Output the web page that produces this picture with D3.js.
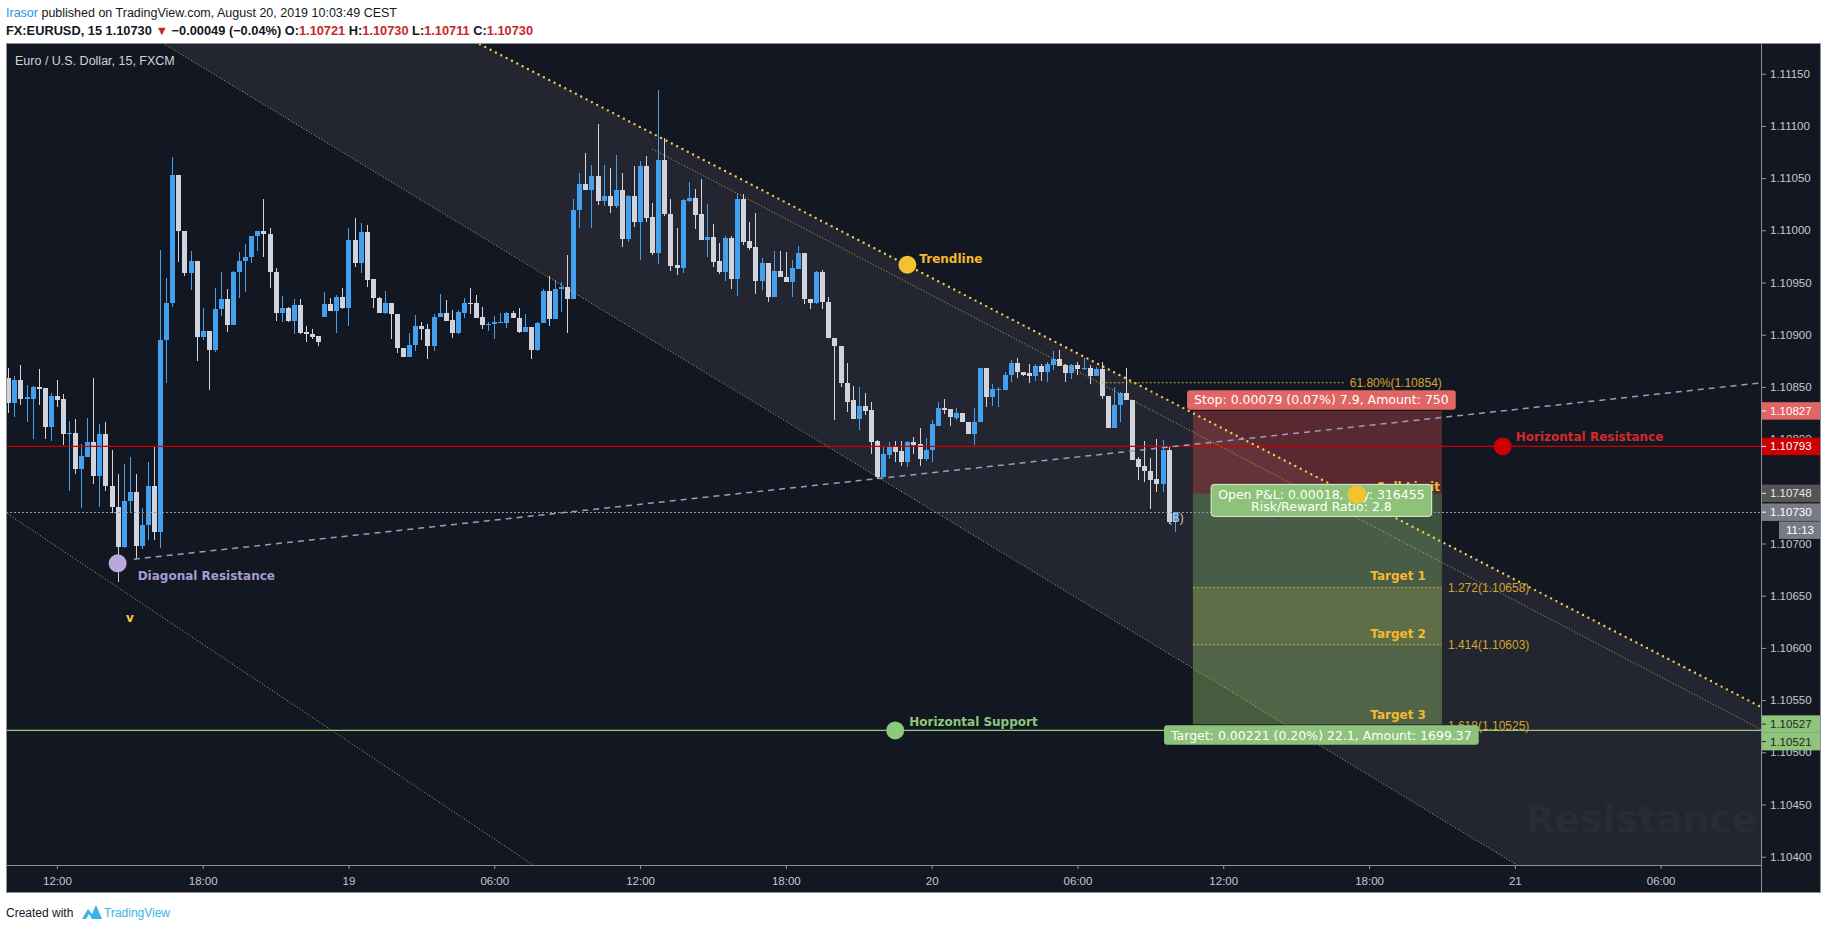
<!DOCTYPE html>
<html>
<head>
<meta charset="utf-8">
<script src="https://cdn.jsdelivr.net/npm/d3@7/dist/d3.min.js"></script>
<style>
html,body{margin:0;padding:0;background:#ffffff;}
svg{display:block;}
</style>
</head>
<body>
<svg id="chart" width="1828" height="930"></svg>
<script>
// ================= DATA =================
const headerAuthor = "Irasor";
const headerPublished = " published on TradingView.com, August 20, 2019 10:03:49 CEST";
const symbolLabel = "FX:EURUSD, 15";
const lastPriceText = "1.10730";
const changeText = "\u22120.00049 (\u22120.04%)";
const ohlcLabels = ["O", "H", "L", "C"];
const ohlcValues = ["1.10721", "1.10730", "1.10711", "1.10730"];
const chartTitle = "Euro / U.S. Dollar, 15, FXCM";

const firstBarTime = "2019-08-18T10:00:00Z";
const barMinutes = 15;

const opens = [
1.10859,1.10835,1.10857,1.10838,1.10838,1.10850,1.10849,1.10812,1.10841,1.10838,
1.10805,1.10806,1.10771,1.10783,1.10797,1.10765,1.10805,1.10755,1.10735,1.10697,
1.10741,1.10749,1.10698,1.10718,1.10755,1.10711,1.10895,1.10930,1.11053,1.10999,
1.10959,1.10971,1.10898,1.10904,1.10885,1.10925,1.10934,1.10909,1.10960,1.10971,
1.10974,1.10995,1.10999,1.10996,1.10960,1.10921,1.10926,1.10913,1.10928,1.10903,
1.10901,1.10899,1.10917,1.10929,1.10923,1.10936,1.10926,1.10991,1.10969,1.10998,
1.10953,1.10935,1.10921,1.10930,1.10920,1.10887,1.10879,1.10890,1.10908,1.10905,
1.10889,1.10917,1.10921,1.10914,1.10902,1.10921,1.10930,1.10930,1.10917,1.10909,
1.10910,1.10911,1.10911,1.10921,1.10916,1.10903,1.10907,1.10885,1.10911,1.10942,
1.10915,1.10944,1.10946,1.10934,1.11019,1.11044,1.11039,1.11052,1.11028,1.11033,
1.11023,1.11039,1.10992,1.11033,1.11008,1.11062,1.11013,1.10978,1.11067,1.11016,
1.10967,1.10964,1.11028,1.11031,1.11016,1.10991,1.10994,1.10971,1.10960,1.10993,
1.10953,1.11030,1.10990,1.10984,1.10951,1.10969,1.10936,1.10961,1.10955,1.10950,
1.10963,1.10978,1.10934,1.10930,1.10960,1.10931,1.10897,1.10889,1.10854,1.10837,
1.10819,1.10832,1.10828,1.10798,1.10764,1.10785,1.10792,1.10789,1.10778,1.10797,
1.10795,1.10781,1.10790,1.10813,1.10830,1.10829,1.10820,1.10825,1.10816,1.10805,
1.10816,1.10868,1.10840,1.10847,1.10847,1.10861,1.10873,1.10864,1.10863,1.10860,
1.10870,1.10864,1.10871,1.10877,1.10871,1.10863,1.10871,1.10867,1.10868,1.10860,
1.10867,1.10841,1.10811,1.10833,1.10844,1.10837,1.10781,1.10774,1.10769,1.10762,
1.10757,1.10790,1.10721];

const highs = [
1.10868,1.10860,1.10871,1.10852,1.10851,1.10867,1.10849,1.10844,1.10857,1.10843,
1.10817,1.10819,1.10795,1.10820,1.10859,1.10814,1.10816,1.10790,1.10767,1.10776,
1.10783,1.10767,1.10734,1.10778,1.10792,1.10981,1.10954,1.11070,1.11053,1.10999,
1.10980,1.10971,1.10926,1.10904,1.10945,1.10960,1.10944,1.10961,1.10979,1.10987,
1.10995,1.10999,1.11030,1.11002,1.10964,1.10937,1.10927,1.10934,1.10934,1.10908,
1.10905,1.10899,1.10941,1.10935,1.10938,1.10945,1.11002,1.11012,1.11007,1.11005,
1.10953,1.10936,1.10942,1.10930,1.10920,1.10887,1.10902,1.10919,1.10912,1.10910,
1.10920,1.10939,1.10933,1.10924,1.10924,1.10935,1.10945,1.10938,1.10927,1.10912,
1.10918,1.10921,1.10922,1.10923,1.10926,1.10920,1.10907,1.10912,1.10944,1.10956,
1.10952,1.10950,1.10976,1.11030,1.11055,1.11074,1.11063,1.11102,1.11063,1.11060,
1.11072,1.11055,1.11034,1.11062,1.11066,1.11071,1.11026,1.11134,1.11088,1.11030,
1.11002,1.11030,1.11046,1.11040,1.11049,1.11025,1.11006,1.10988,1.10995,1.10995,
1.11035,1.11035,1.11008,1.11017,1.10973,1.10969,1.10980,1.10980,1.10979,1.10972,
1.10985,1.10978,1.10934,1.10961,1.10962,1.10936,1.10897,1.10889,1.10873,1.10851,
1.10850,1.10844,1.10836,1.10799,1.10792,1.10797,1.10798,1.10798,1.10798,1.10802,
1.10811,1.10801,1.10818,1.10836,1.10838,1.10829,1.10830,1.10825,1.10816,1.10830,
1.10868,1.10868,1.10853,1.10850,1.10864,1.10876,1.10878,1.10864,1.10872,1.10872,
1.10872,1.10874,1.10884,1.10885,1.10872,1.10872,1.10874,1.10878,1.10871,1.10869,
1.10874,1.10841,1.10850,1.10845,1.10868,1.10837,1.10783,1.10798,1.10782,1.10800,
1.10799,1.10792,1.10730];

const lows = [
1.10825,1.10821,1.10833,1.10816,1.10800,1.10833,1.10800,1.10798,1.10831,1.10794,
1.10750,1.10767,1.10734,1.10783,1.10757,1.10735,1.10750,1.10729,1.10663,1.10696,
1.10729,1.10686,1.10695,1.10703,1.10703,1.10696,1.10854,1.10927,1.10970,1.10956,
1.10943,1.10875,1.10895,1.10847,1.10883,1.10918,1.10903,1.10909,1.10935,1.10941,
1.10969,1.10980,1.10974,1.10945,1.10913,1.10912,1.10912,1.10901,1.10901,1.10893,
1.10896,1.10889,1.10917,1.10923,1.10902,1.10925,1.10908,1.10965,1.10959,1.10946,
1.10926,1.10921,1.10920,1.10896,1.10882,1.10879,1.10879,1.10884,1.10895,1.10877,
1.10884,1.10917,1.10913,1.10897,1.10901,1.10916,1.10920,1.10916,1.10905,1.10904,
1.10896,1.10911,1.10906,1.10916,1.10902,1.10903,1.10877,1.10884,1.10911,1.10908,
1.10915,1.10922,1.10902,1.10934,1.11002,1.11039,1.11002,1.11024,1.11023,1.11017,
1.11021,1.10984,1.10989,1.11003,1.10972,1.11008,1.10976,1.10968,1.11014,1.10961,
1.10957,1.10959,1.11027,1.11001,1.10991,1.10974,1.10965,1.10958,1.10951,1.10944,
1.10937,1.10986,1.10981,1.10939,1.10943,1.10931,1.10936,1.10955,1.10950,1.10936,
1.10963,1.10929,1.10925,1.10929,1.10925,1.10897,1.10818,1.10850,1.10826,1.10819,
1.10809,1.10823,1.10786,1.10762,1.10764,1.10781,1.10778,1.10774,1.10773,1.10786,
1.10774,1.10779,1.10778,1.10813,1.10824,1.10813,1.10818,1.10816,1.10805,1.10794,
1.10816,1.10831,1.10832,1.10831,1.10847,1.10855,1.10859,1.10860,1.10854,1.10856,
1.10856,1.10855,1.10866,1.10870,1.10855,1.10858,1.10861,1.10866,1.10853,1.10860,
1.10838,1.10811,1.10811,1.10816,1.10837,1.10780,1.10761,1.10759,1.10733,1.10749,
1.10749,1.10719,1.10711];

const closes = [
1.10835,1.10857,1.10838,1.10840,1.10850,1.10848,1.10812,1.10841,1.10837,1.10805,
1.10806,1.10771,1.10784,1.10797,1.10765,1.10805,1.10755,1.10735,1.10697,1.10741,
1.10749,1.10698,1.10718,1.10755,1.10711,1.10895,1.10930,1.11053,1.10999,1.10959,
1.10971,1.10898,1.10904,1.10885,1.10925,1.10934,1.10909,1.10960,1.10971,1.10974,
1.10995,1.10999,1.10996,1.10960,1.10921,1.10926,1.10913,1.10928,1.10902,1.10901,
1.10898,1.10893,1.10929,1.10923,1.10936,1.10926,1.10991,1.10969,1.10998,1.10952,
1.10935,1.10921,1.10930,1.10920,1.10887,1.10879,1.10890,1.10908,1.10905,1.10889,
1.10917,1.10921,1.10913,1.10902,1.10922,1.10930,1.10929,1.10916,1.10909,1.10910,
1.10912,1.10912,1.10921,1.10916,1.10903,1.10907,1.10885,1.10911,1.10942,1.10915,
1.10944,1.10946,1.10934,1.11019,1.11044,1.11039,1.11052,1.11028,1.11033,1.11023,
1.11039,1.10992,1.11033,1.11008,1.11062,1.11012,1.10978,1.11067,1.11016,1.10966,
1.10964,1.11029,1.11031,1.11015,1.10991,1.10994,1.10970,1.10960,1.10993,1.10953,
1.11030,1.10989,1.10983,1.10951,1.10969,1.10936,1.10961,1.10955,1.10950,1.10964,
1.10978,1.10934,1.10930,1.10960,1.10931,1.10897,1.10889,1.10854,1.10836,1.10819,
1.10832,1.10827,1.10797,1.10764,1.10786,1.10792,1.10788,1.10778,1.10797,1.10794,
1.10781,1.10790,1.10814,1.10830,1.10828,1.10821,1.10825,1.10816,1.10805,1.10816,
1.10868,1.10840,1.10848,1.10848,1.10861,1.10873,1.10864,1.10861,1.10860,1.10870,
1.10864,1.10872,1.10877,1.10870,1.10863,1.10871,1.10867,1.10868,1.10860,1.10867,
1.10841,1.10811,1.10833,1.10844,1.10837,1.10780,1.10773,1.10769,1.10761,1.10757,
1.10790,1.10721,1.10730];

// axes
const viewTimes = ["2019-08-18T09:54:20Z", "2019-08-21T10:07:50Z"];
const viewPrices = [1.1039205, 1.111794];
const priceTicks = [1.1040,1.1045,1.1050,1.1055,1.1060,1.1065,1.1070,1.1075,1.1080,1.1085,1.1090,1.1095,1.1100,1.1105,1.1110,1.1115];
const timeTicks = ["2019-08-18T12:00:00Z","2019-08-18T18:00:00Z","2019-08-19T00:00:00Z","2019-08-19T06:00:00Z",
  "2019-08-19T12:00:00Z","2019-08-19T18:00:00Z","2019-08-20T00:00:00Z","2019-08-20T06:00:00Z",
  "2019-08-20T12:00:00Z","2019-08-20T18:00:00Z","2019-08-21T00:00:00Z","2019-08-21T06:00:00Z"];
const timeTickLabels = ["12:00","18:00","19","06:00","12:00","18:00","20","06:00","12:00","18:00","21","06:00"];

// drawings (time, price anchors)
const trendAnchors = [["2019-08-19T10:00:00Z", 1.11123], ["2019-08-20T10:00:00Z", 1.10834]];
const channelLowAnchors = [["2019-08-19T10:00:00Z", 1.10930], ["2019-08-20T10:00:00Z", 1.10591]];
const midLineAnchors = [["2019-08-19T12:30:00Z", 1.11078], ["2019-08-20T10:00:00Z", 1.10816]];
const farLineAnchors = [["2019-08-18T10:00:00Z", 1.10728], ["2019-08-19T06:00:00Z", 1.10417]];
const diagAnchors = [["2019-08-18T15:10:00Z", 1.10685], ["2019-08-20T10:00:00Z", 1.10793]];

const resistanceLevel = 1.10793;
const supportLevel = 1.10521;
const currentPrice = 1.10730;

const markerNames = ["Trendline", "Horizontal Resistance", "Diagonal Resistance", "Horizontal Support"];
const markerTimes = ["2019-08-19T23:00:00Z", "2019-08-20T23:30:00Z", "2019-08-18T14:30:00Z", "2019-08-19T22:30:00Z"];
const markerPrices = [1.10967, 1.10793, 1.10681, 1.10521];
const markerColors = ["#f2c230", "#cc0000", "#b8a8dc", "#8cc97a"];
const markerTextColors = ["#f5b82e", "#d42a2a", "#a99ad2", "#8cc97a"];

const positionStart = "2019-08-20T10:45:00Z";
const positionEnd = "2019-08-20T21:00:00Z";
const positionEntry = 1.10748;
const positionStop = 1.10827;
const positionTarget = 1.10527;
const stopLabel = "Stop: 0.00079 (0.07%) 7.9, Amount: 750";
const pnlLabel = ["Open P&L: 0.00018, Qty: 316455", "Risk/Reward Ratio: 2.8"];
const targetLabel = "Target: 0.00221 (0.20%) 22.1, Amount: 1699.37";
const sellLimitTime = "2019-08-20T17:30:00Z";

const fibRetStart = "2019-08-20T07:00:00Z";
const fibRetEnd = "2019-08-20T17:00:00Z";
const fibRetLevel = "61.80%";
const fibRetPrice = 1.10854;
const fibExtLevels = ["1.272", "1.414", "1.618"];
const fibExtPrices = [1.10658, 1.10603, 1.10525];
const targetNames = ["Target 1", "Target 2", "Target 3"];

const vMarkTime = "2019-08-18T15:00:00Z";
const vMarkPrice = 1.10629;

const axisTagPrices = [1.10827, 1.10793, 1.10748, 1.10730, 1.10527, 1.10521];
const axisTagBg = ["#e06565", "#cc0000", "#555555", "#787b86", "#8fc47c", "#8fc47c"];
const axisTagFg = ["#ffffff", "#ffffff", "#e8e8e8", "#ffffff", "#1b2a17", "#1b2a17"];
const countdownText = "11:13";
const watermark = "Resistance";

// ================= LAYOUT =================
const svg = d3.select("#chart");
const frame = {l: 6, t: 43, r: 1821, b: 893};
const plot = {l: 6, t: 43, r: 1761, b: 865};
const UI = "'Liberation Sans', Arial, sans-serif";
const LB = "'DejaVu Sans', Verdana, sans-serif";
const BG = "#131722";

const x = d3.scaleUtc().domain(viewTimes.map(d => new Date(d))).range([plot.l, plot.r]);
const y = d3.scaleLinear().domain(viewPrices).range([plot.b, plot.t]);
const T = s => x(new Date(s));

const t0 = new Date(firstBarTime);
const bars = opens.map((o, i) => ({t: d3.utcMinute.offset(t0, i * barMinutes), o, h: highs[i], l: lows[i], c: closes[i]}));

// ---------- header ----------
const h1 = svg.append("text").attr("x", 6).attr("y", 17).attr("font-family", UI).attr("font-size", 12.5).attr("fill", "#131722");
h1.append("tspan").attr("fill", "#2196f3").text(headerAuthor);
h1.append("tspan").text(headerPublished);
const h2 = svg.append("text").attr("x", 6).attr("y", 35).attr("font-family", UI).attr("font-size", 12.8).attr("font-weight", "bold").attr("fill", "#131722");
h2.append("tspan").text(symbolLabel + " " + lastPriceText + " ");
h2.append("tspan").attr("fill", "#c62828").text("\u25BC");
h2.append("tspan").text(" " + changeText + " ");
ohlcLabels.forEach((lab, i) => {
  h2.append("tspan").text((i ? " " : "") + lab + ":");
  h2.append("tspan").attr("fill", "#c62828").text(ohlcValues[i]);
});

// ---------- frame ----------
svg.append("rect").attr("x", frame.l).attr("y", frame.t).attr("width", frame.r - frame.l).attr("height", frame.b - frame.t).attr("fill", BG);

const defs = svg.append("defs");
defs.append("clipPath").attr("id", "plotClip").append("rect")
  .attr("x", plot.l).attr("y", plot.t).attr("width", plot.r - plot.l).attr("height", plot.b - plot.t);
const g = svg.append("g").attr("clip-path", "url(#plotClip)");

function lineSeg(anchors, extL, extR) {
  const x1 = T(anchors[0][0]), y1 = y(anchors[0][1]);
  const x2 = T(anchors[1][0]), y2 = y(anchors[1][1]);
  const m = (y2 - y1) / (x2 - x1);
  const xs = extL ? plot.l - 400 : x1, xe = extR ? plot.r + 400 : x2;
  return [[xs, y1 + m * (xs - x1)], [xe, y1 + m * (xe - x1)]];
}

// channel fill
const up = lineSeg(trendAnchors, true, true);
const lo = lineSeg(channelLowAnchors, true, true);
g.append("path").attr("d", d3.line()([up[0], up[1], lo[1], lo[0]]) + "Z").attr("fill", "#232530");

// watermark
g.append("text").attr("x", 1525).attr("y", 832).attr("font-family", LB).attr("font-weight", "bold")
  .attr("font-size", 38).attr("fill", "rgba(255,255,255,0.045)").text(watermark);

// position zones
const px0 = T(positionStart), px1 = T(positionEnd);
g.append("rect").attr("x", px0).attr("width", px1 - px0).attr("y", y(positionStop))
  .attr("height", y(positionEntry) - y(positionStop)).attr("fill", "rgba(236,82,81,0.32)");
g.append("rect").attr("x", px0).attr("width", px1 - px0).attr("y", y(positionEntry))
  .attr("height", y(positionTarget) - y(positionEntry)).attr("fill", "rgba(150,210,120,0.32)");
g.append("rect").attr("x", px0).attr("width", px1 - px0).attr("y", y(fibExtPrices[0]))
  .attr("height", y(fibExtPrices[1]) - y(fibExtPrices[0])).attr("fill", "rgba(220,205,80,0.16)");
g.append("rect").attr("x", px0).attr("width", px1 - px0).attr("y", y(fibExtPrices[1]))
  .attr("height", y(fibExtPrices[2]) - y(fibExtPrices[1])).attr("fill", "rgba(220,205,80,0.07)");

// candles
const UPC = "#42a0ee", DNC = "#d1d4dc";
const cg = g.append("g").attr("shape-rendering", "crispEdges");
bars.forEach(b => {
  const cx = Math.round(x(b.t));
  const col = b.c >= b.o ? UPC : DNC;
  const yh = y(b.h), yl = y(b.l);
  cg.append("rect").attr("x", cx).attr("width", 1).attr("y", yh).attr("height", Math.max(1, yl - yh)).attr("fill", col);
  const yt = y(Math.max(b.o, b.c)), yb = y(Math.min(b.o, b.c));
  cg.append("rect").attr("x", cx - 2).attr("width", 5).attr("y", yt).attr("height", Math.max(1, yb - yt)).attr("fill", col);
});

// horizontal levels
g.append("line").attr("x1", plot.l).attr("x2", plot.r).attr("y1", y(resistanceLevel)).attr("y2", y(resistanceLevel))
  .attr("stroke", "#cc0000").attr("stroke-width", 1.2);
g.append("line").attr("x1", plot.l).attr("x2", plot.r).attr("y1", y(supportLevel)).attr("y2", y(supportLevel))
  .attr("stroke", "#8fce7c").attr("stroke-width", 1.2);
g.append("line").attr("x1", plot.l).attr("x2", plot.r).attr("y1", Math.round(y(currentPrice)) + 0.5).attr("y2", Math.round(y(currentPrice)) + 0.5)
  .attr("stroke", "#9598a1").attr("stroke-width", 1).attr("stroke-dasharray", "2 2");

// trend lines
const fine = (seg) => g.append("path").attr("d", d3.line()(seg)).attr("fill", "none")
  .attr("stroke", "rgba(232,190,70,0.85)").attr("stroke-width", 1).attr("stroke-dasharray", "1 2");
fine(lo);
fine(lineSeg(midLineAnchors, false, true));
fine(lineSeg(farLineAnchors, true, true));
g.append("path").attr("d", d3.line()(up)).attr("fill", "none").attr("stroke", "#f2c94c")
  .attr("stroke-width", 2.4).attr("stroke-linecap", "round").attr("stroke-dasharray", "0 6");
g.append("path").attr("d", d3.line()(lineSeg(diagAnchors, false, true))).attr("fill", "none")
  .attr("stroke", "#9f9bbd").attr("stroke-width", 1.5).attr("stroke-dasharray", "6 5");

// fib retracement 61.8
const FIBC = "#d4a52c";
g.append("line").attr("x1", T(fibRetStart)).attr("x2", T(fibRetEnd)).attr("y1", y(fibRetPrice)).attr("y2", y(fibRetPrice))
  .attr("stroke", "#c9a032").attr("stroke-dasharray", "2 2").attr("stroke-width", 1);
g.append("text").attr("x", T(fibRetEnd) + 5).attr("y", y(fibRetPrice)).attr("dy", "0.35em")
  .attr("font-family", UI).attr("font-size", 12).attr("fill", FIBC).text(fibRetLevel + "(" + fibRetPrice.toFixed(5) + ")");

// fib extension levels
fibExtLevels.forEach((lv, i) => {
  const yy = y(fibExtPrices[i]);
  g.append("line").attr("x1", px0).attr("x2", px1).attr("y1", yy).attr("y2", yy)
    .attr("stroke", "#c9b040").attr("stroke-dasharray", "2 2").attr("stroke-width", 1);
  g.append("text").attr("x", px1 + 6).attr("y", yy).attr("dy", "0.35em")
    .attr("font-family", UI).attr("font-size", 12).attr("fill", FIBC).text(lv + "(" + fibExtPrices[i].toFixed(5) + ")");
  g.append("text").attr("x", px1 - 16).attr("y", yy - 7).attr("text-anchor", "end")
    .attr("font-family", LB).attr("font-weight", "bold").attr("font-size", 12).attr("fill", "#f5b82e").text(targetNames[i]);
});

// v mark
g.append("text").attr("x", T(vMarkTime)).attr("y", y(vMarkPrice)).attr("dy", "0.35em").attr("text-anchor", "middle")
  .attr("font-family", LB).attr("font-weight", "bold").attr("font-size", 12).attr("fill", "#f0c94c").text("v");

// (B) marker on last bar
const lastBar = bars[bars.length - 1];
g.append("text").attr("x", x(lastBar.t) + 1).attr("y", y(lastBar.c)).attr("dy", "0.85em").attr("text-anchor", "middle")
  .attr("font-family", UI).attr("font-size", 12).attr("fill", "#c4c6cc").text("(B)");

// markers + labels
const labOffsets = [[12, -2], [13, -5.5], [20, 16.7], [14, -4.5]];
markerNames.forEach((nm, i) => {
  const cx = T(markerTimes[i]), cy = y(markerPrices[i]);
  g.append("circle").attr("cx", cx).attr("cy", cy).attr("r", 9).attr("fill", markerColors[i]);
  g.append("text").attr("x", cx + labOffsets[i][0]).attr("y", cy + labOffsets[i][1])
    .attr("font-family", LB).attr("font-weight", "bold").attr("font-size", 12).attr("fill", markerTextColors[i]).text(nm);
});

// Sell limit text
g.append("text").attr("x", px1 - 2).attr("y", y(positionEntry) - 2.5).attr("text-anchor", "end")
  .attr("font-family", LB).attr("font-weight", "bold").attr("font-size", 12).attr("fill", "#f5b82e").text("Sell Limit");

// label boxes
const pcx = (px0 + px1) / 2 + 4;
function boxLabel(lines, cy, fill, stroke) {
  const grp = g.append("g");
  const texts = lines.map((s, k) => grp.append("text").attr("x", pcx).attr("y", cy + (k - (lines.length - 1) / 2) * 12.5).attr("dy", "0.36em")
    .attr("text-anchor", "middle").attr("font-family", LB).attr("font-size", 12.5).attr("fill", "#ffffff").text(s));
  const w = d3.max(texts, t => t.node().getComputedTextLength()) + 14;
  const h = lines.length * 12.5 + 7;
  grp.insert("rect", "text").attr("x", pcx - w / 2).attr("y", cy - h / 2).attr("width", w).attr("height", h)
    .attr("rx", 3).attr("fill", fill).attr("stroke", stroke || "none").attr("stroke-width", 1);
}
boxLabel([stopLabel], y(positionStop) - 11, "#e06565");
boxLabel(pnlLabel, y(positionEntry) + 7, "#8cc27a", "#e6eee0");
boxLabel([targetLabel], y(positionTarget) + 11, "#8cc27a");

// sell-limit circle (on top of box)
g.append("circle").attr("cx", T(sellLimitTime)).attr("cy", y(positionEntry) + 1).attr("r", 9.5).attr("fill", "#f2c230");

// ---------- axes ----------
const gy = svg.append("g").attr("transform", `translate(${plot.r},0)`)
  .call(d3.axisRight(y).tickValues(priceTicks).tickFormat(d3.format(".5f")).tickSize(5).tickPadding(4));
gy.select(".domain").remove();
gy.selectAll("line").attr("stroke", "#9598a1");
gy.selectAll("text").attr("fill", "#c5c8d0").attr("font-family", UI).attr("font-size", 11.5);

const gx = svg.append("g").attr("transform", `translate(0,${plot.b})`)
  .call(d3.axisBottom(x).tickValues(timeTicks.map(d => new Date(d))).tickFormat((d, i) => timeTickLabels[i]).tickSize(4).tickPadding(7.5));
gx.select(".domain").remove();
gx.selectAll("line").attr("stroke", "#9598a1");
gx.selectAll("text").attr("fill", "#c5c8d0").attr("font-family", UI).attr("font-size", 11.5);

// axis tags
let prevBottom = -Infinity;
axisTagPrices.forEach((p, i) => {
  let cy = y(p);
  const hh = 17.5;
  if (cy - hh / 2 < prevBottom) cy = prevBottom + hh / 2;
  prevBottom = cy + hh / 2;
  svg.append("rect").attr("x", plot.r).attr("y", cy - hh / 2).attr("width", frame.r - plot.r).attr("height", hh).attr("fill", axisTagBg[i]);
  svg.append("line").attr("x1", plot.r).attr("x2", plot.r + 5).attr("y1", cy).attr("y2", cy).attr("stroke", axisTagFg[i]);
  svg.append("text").attr("x", plot.r + 9).attr("y", cy).attr("dy", "0.35em").attr("font-family", UI).attr("font-size", 11.5)
    .attr("fill", axisTagFg[i]).text(p.toFixed(5));
  if (p === currentPrice) {
    const cdy = cy + hh / 2 + 0.5;
    svg.append("rect").attr("x", 1779).attr("y", cdy).attr("width", frame.r - 1779).attr("height", 17.5).attr("fill", "#787b86");
    svg.append("text").attr("x", 1800).attr("y", cdy + 8.75).attr("dy", "0.35em").attr("text-anchor", "middle")
      .attr("font-family", UI).attr("font-size", 11.5).attr("fill", "#ffffff").text(countdownText);
  }
});

// separators and border
svg.append("line").attr("x1", plot.r + 0.5).attr("x2", plot.r + 0.5).attr("y1", frame.t).attr("y2", frame.b).attr("stroke", "#8d9099");
svg.append("line").attr("x1", frame.l).attr("x2", plot.r).attr("y1", plot.b + 0.5).attr("y2", plot.b + 0.5).attr("stroke", "#8d9099");
svg.append("rect").attr("x", frame.l + 0.5).attr("y", frame.t + 0.5).attr("width", frame.r - frame.l - 1).attr("height", frame.b - frame.t - 1)
  .attr("fill", "none").attr("stroke", "#8d9099");

// chart title
svg.append("text").attr("x", 15).attr("y", 65).attr("font-family", UI).attr("font-size", 12.5).attr("fill", "#d1d4dc").text(chartTitle);

// ---------- footer ----------
svg.append("text").attr("x", 6).attr("y", 917).attr("font-family", UI).attr("font-size", 12).attr("fill", "#131722").text("Created with");
svg.append("path").attr("d", "M82,919 L88,909 L92,914 L96,905 L102,919 Z").attr("fill", "#3bb4e8");
svg.append("path").attr("d", "M86,919 L89,914 L92,919 Z").attr("fill", "#ffffff");
svg.append("text").attr("x", 104).attr("y", 917).attr("font-family", UI).attr("font-size", 12).attr("fill", "#3bb4e8").text("TradingView");
</script>
</body>
</html>
